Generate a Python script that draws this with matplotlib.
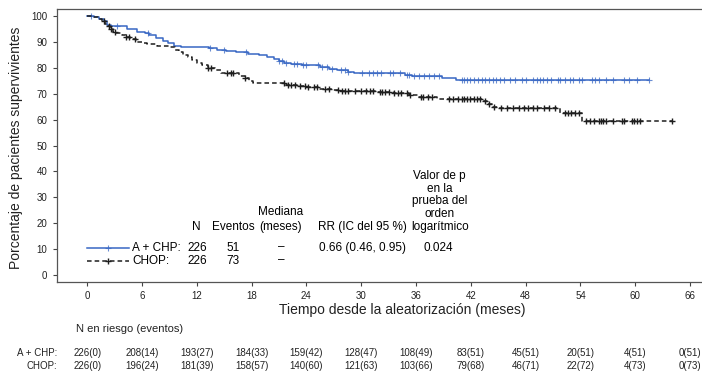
import numpy as np
import matplotlib
matplotlib.use('Agg')
import matplotlib.pyplot as plt
import matplotlib.transforms as mtransforms

plt.rcParams['font.family'] = ['Liberation Sans', 'DejaVu Sans']

# curvas de Kaplan-Meier (tiempo en meses, % supervivientes)
t_achp = [0, 0.7, 1.3, 1.8, 2.2, 2.6, 4.4, 5.5, 6.3, 6.8, 7.5, 8.3, 8.8, 9.5, 10.3,
          13.3, 14.2, 15.2, 16.3, 17.6, 18.8, 19.7, 20.4, 21.0, 21.6, 22.3, 23.5,
          25.5, 26.5, 27.3, 28.5, 29.2, 31.8, 34.8, 35.6, 38.8, 40.4]
s_achp = [100, 99.5, 99, 98, 96.5, 96, 95, 94, 93.5, 92.5, 91.5, 90.5, 89.5, 88.5, 88,
          87.5, 87, 86.5, 86, 85.5, 85, 84, 83.3, 82.5, 82, 81.3, 81,
          80.4, 79.5, 79, 78.5, 78, 77.8, 77.4, 76.8, 76, 75.3]
fin_achp = 61.5

t_chop = [0, 0.6, 1.2, 1.6, 1.9, 2.2, 2.5, 2.8, 3.2, 3.8, 4.2, 4.7, 5.3, 6.0, 6.5,
          7.6, 9.0, 9.6, 10.0, 10.5, 11.0, 11.5, 12.0, 12.6, 13.2, 14.0, 14.6,
          16.6, 17.3, 17.7, 18.2, 21.8, 23.0, 24.0, 25.3, 26.8, 27.8, 31.7, 33.5,
          35.2, 36.2, 38.3, 43.3, 43.8, 44.3, 45.0, 51.8, 54.2]
s_chop = [100, 99.5, 99, 98, 97, 96, 95, 94, 93.5, 92.5, 92, 91, 90, 89.5, 89,
          88.5, 88, 87, 86, 85, 84, 83, 82, 81, 80, 79, 78,
          77, 76, 75, 74, 73.5, 73, 72.5, 72, 71.5, 71.2, 70.8, 70.2,
          69.5, 68.8, 67.8, 67, 66, 65, 64.6, 62.7, 59.6]
fin_chop = 64.0

# datos censurados
cens_achp = [0.4, 3.3, 6.7, 13.5, 15.0, 17.4, 21.0, 21.3, 21.8, 22.6, 23.0, 23.6, 24.0,
             25.3, 25.7, 26.3, 26.8, 27.8, 28.2, 28.6, 30.1, 30.8, 31.3, 31.7, 32.2,
             33.1, 33.5, 34.2, 35.0, 35.2, 35.8, 36.3, 36.9, 37.4, 38.0, 38.5, 41.0,
             41.3, 41.6, 41.9, 42.3, 42.8, 43.2, 43.6, 44.0, 44.4, 44.8, 45.2, 45.6,
             46.3, 46.8, 47.6, 48.0, 48.8, 49.2, 49.6, 49.9, 50.3, 50.8, 51.5, 51.8,
             52.3, 52.8, 53.2, 53.8, 54.2, 55.3, 55.6, 56.0, 56.8, 57.6, 58.8, 59.3,
             60.2, 61.5]
cens_chop = [1.8, 2.4, 2.6, 3.0, 4.3, 4.6, 5.2, 13.2, 13.6, 15.3, 15.8, 16.0, 17.3,
             21.5, 22.0, 22.3, 22.7, 23.3, 23.8, 24.2, 24.8, 25.2, 26.0, 26.5, 27.5,
             27.9, 28.2, 28.6, 29.3, 30.0, 30.5, 31.0, 31.3, 32.0, 32.3, 32.6, 33.0,
             33.6, 34.0, 34.4, 35.0, 35.3, 36.5, 36.8, 37.3, 37.8, 39.6, 40.0, 40.6,
             41.0, 41.3, 41.6, 41.9, 42.3, 42.7, 43.0, 43.6, 44.0, 44.5, 45.3, 46.0,
             46.6, 47.3, 47.8, 48.2, 48.8, 49.2, 50.0, 50.6, 51.2, 52.3, 52.6, 53.0,
             53.4, 53.8, 54.6, 55.0, 55.5, 56.0, 56.2, 56.5, 56.8, 57.6, 58.5, 58.8,
             59.6, 59.9, 60.2, 60.5, 64.0]

meses = [0, 6, 12, 18, 24, 30, 36, 42, 48, 54, 60, 66]
riesgo_achp = ['226(0)', '208(14)', '193(27)', '184(33)', '159(42)', '128(47)',
               '108(49)', '83(51)', '45(51)', '20(51)', '4(51)', '0(51)']
riesgo_chop = ['226(0)', '196(24)', '181(39)', '158(57)', '140(60)', '121(63)',
               '103(66)', '79(68)', '46(71)', '22(72)', '4(73)', '0(73)']

azul = '#3867c4'
negro = '#1e1e1e'


def valor(tiempos, surv, t):
    i = np.searchsorted(tiempos, t, side='right') - 1
    return np.array(surv)[i]


fig = plt.figure(figsize=(7.02, 3.75), dpi=100)
ax = fig.add_axes([57 / 702, 1 - 281.5 / 375, 1 - 57 / 702, (281.5 - 9) / 375])

ax.step(t_achp + [fin_achp], s_achp + [s_achp[-1]], where='post', color=azul, lw=1.1)
ax.plot(cens_achp, valor(t_achp, s_achp, cens_achp), ls='none', marker='+',
        ms=5, mew=0.8, color=azul, alpha=0.75)
ax.step(t_chop + [fin_chop], s_chop + [s_chop[-1]], where='post', color=negro, lw=1.1,
        dashes=(3, 2))
ax.plot(cens_chop, valor(t_chop, s_chop, cens_chop), ls='none', marker='+',
        ms=5, mew=1.0, color=negro)

ax.set_xlim(-3.3, 67.3)
ax.set_ylim(-2.5, 102.7)
ax.set_xticks(meses)
ax.set_yticks(range(0, 101, 10))
ax.tick_params(axis='both', labelsize=7, length=3, width=0.8, colors='#444',
               labelcolor='#222', pad=4)
for s in ['left', 'bottom', 'top']:
    ax.spines[s].set_color('#555')
    ax.spines[s].set_linewidth(0.9)
ax.spines['right'].set_visible(False)

ax.set_ylabel('Porcentaje de pacientes supervivientes', fontsize=10, color='#222')
ax.yaxis.set_label_coords(-0.052, 0.49)
ax.set_xlabel('Tiempo desde la aleatorización (meses)', fontsize=10, color='#222')
ax.xaxis.set_label_coords(0.535, -0.078)

# tabla dentro del grafico
fs = 8.5
ax.text(12.0, 16.3, 'N', fontsize=fs, ha='center', va='bottom')
ax.text(16.0, 16.3, 'Eventos', fontsize=fs, ha='center', va='bottom')
ax.text(21.2, 16.3, 'Mediana\n(meses)', fontsize=fs, ha='center', va='bottom',
        linespacing=1.3)
ax.text(30.1, 16.3, 'RR (IC del 95 %)', fontsize=fs, ha='center', va='bottom')
ax.text(38.6, 16.3, 'Valor de p\nen la\nprueba del\norden\nlogarítmico', fontsize=fs,
        ha='center', va='bottom', linespacing=1.08)

y1, y2 = 10.6, 5.6
ax.plot([0, 4.6], [y1, y1], color=azul, lw=1.1)
ax.plot([2.3], [y1], marker='+', ms=5, mew=0.8, color=azul, alpha=0.75)
ax.plot([0, 4.6], [y2, y2], color=negro, lw=1.1, dashes=(3, 2))
ax.plot([2.3], [y2], marker='+', ms=5, mew=1.0, color=negro)
ax.text(4.9, y1, 'A + CHP:', fontsize=fs, va='center')
ax.text(4.9, y2, 'CHOP:', fontsize=fs, va='center')
ax.text(12.0, y1, '226', fontsize=fs, ha='center', va='center')
ax.text(12.0, y2, '226', fontsize=fs, ha='center', va='center')
ax.text(16.0, y1, '51', fontsize=fs, ha='center', va='center')
ax.text(16.0, y2, '73', fontsize=fs, ha='center', va='center')
ax.text(21.2, y1, '–', fontsize=fs, ha='center', va='center')
ax.text(21.2, y2, '–', fontsize=fs, ha='center', va='center')
ax.text(30.1, y1, '0.66 (0.46, 0.95)', fontsize=fs, ha='center', va='center')
ax.text(38.4, y1, '0.024', fontsize=fs, ha='center', va='center')

# tabla de pacientes en riesgo
trans = mtransforms.blended_transform_factory(ax.transData, fig.transFigure)
fig.text(76 / 702, 1 - 329 / 375, 'N en riesgo (eventos)', fontsize=8, va='center',
         color='#222')
fig.text(57 / 702, 1 - 353 / 375, 'A + CHP:', fontsize=7, ha='right', va='center',
         color='#222')
fig.text(57 / 702, 1 - 366 / 375, 'CHOP:', fontsize=7, ha='right', va='center',
         color='#222')
for m, a, c in zip(meses, riesgo_achp, riesgo_chop):
    ax.text(m, 1 - 353 / 375, a, transform=trans, fontsize=7, ha='center', va='center',
            color='#222', family=['Liberation Sans Narrow', 'Liberation Sans'])
    ax.text(m, 1 - 366 / 375, c, transform=trans, fontsize=7, ha='center', va='center',
            color='#222', family=['Liberation Sans Narrow', 'Liberation Sans'])

fig.savefig('out.png', dpi=100)
